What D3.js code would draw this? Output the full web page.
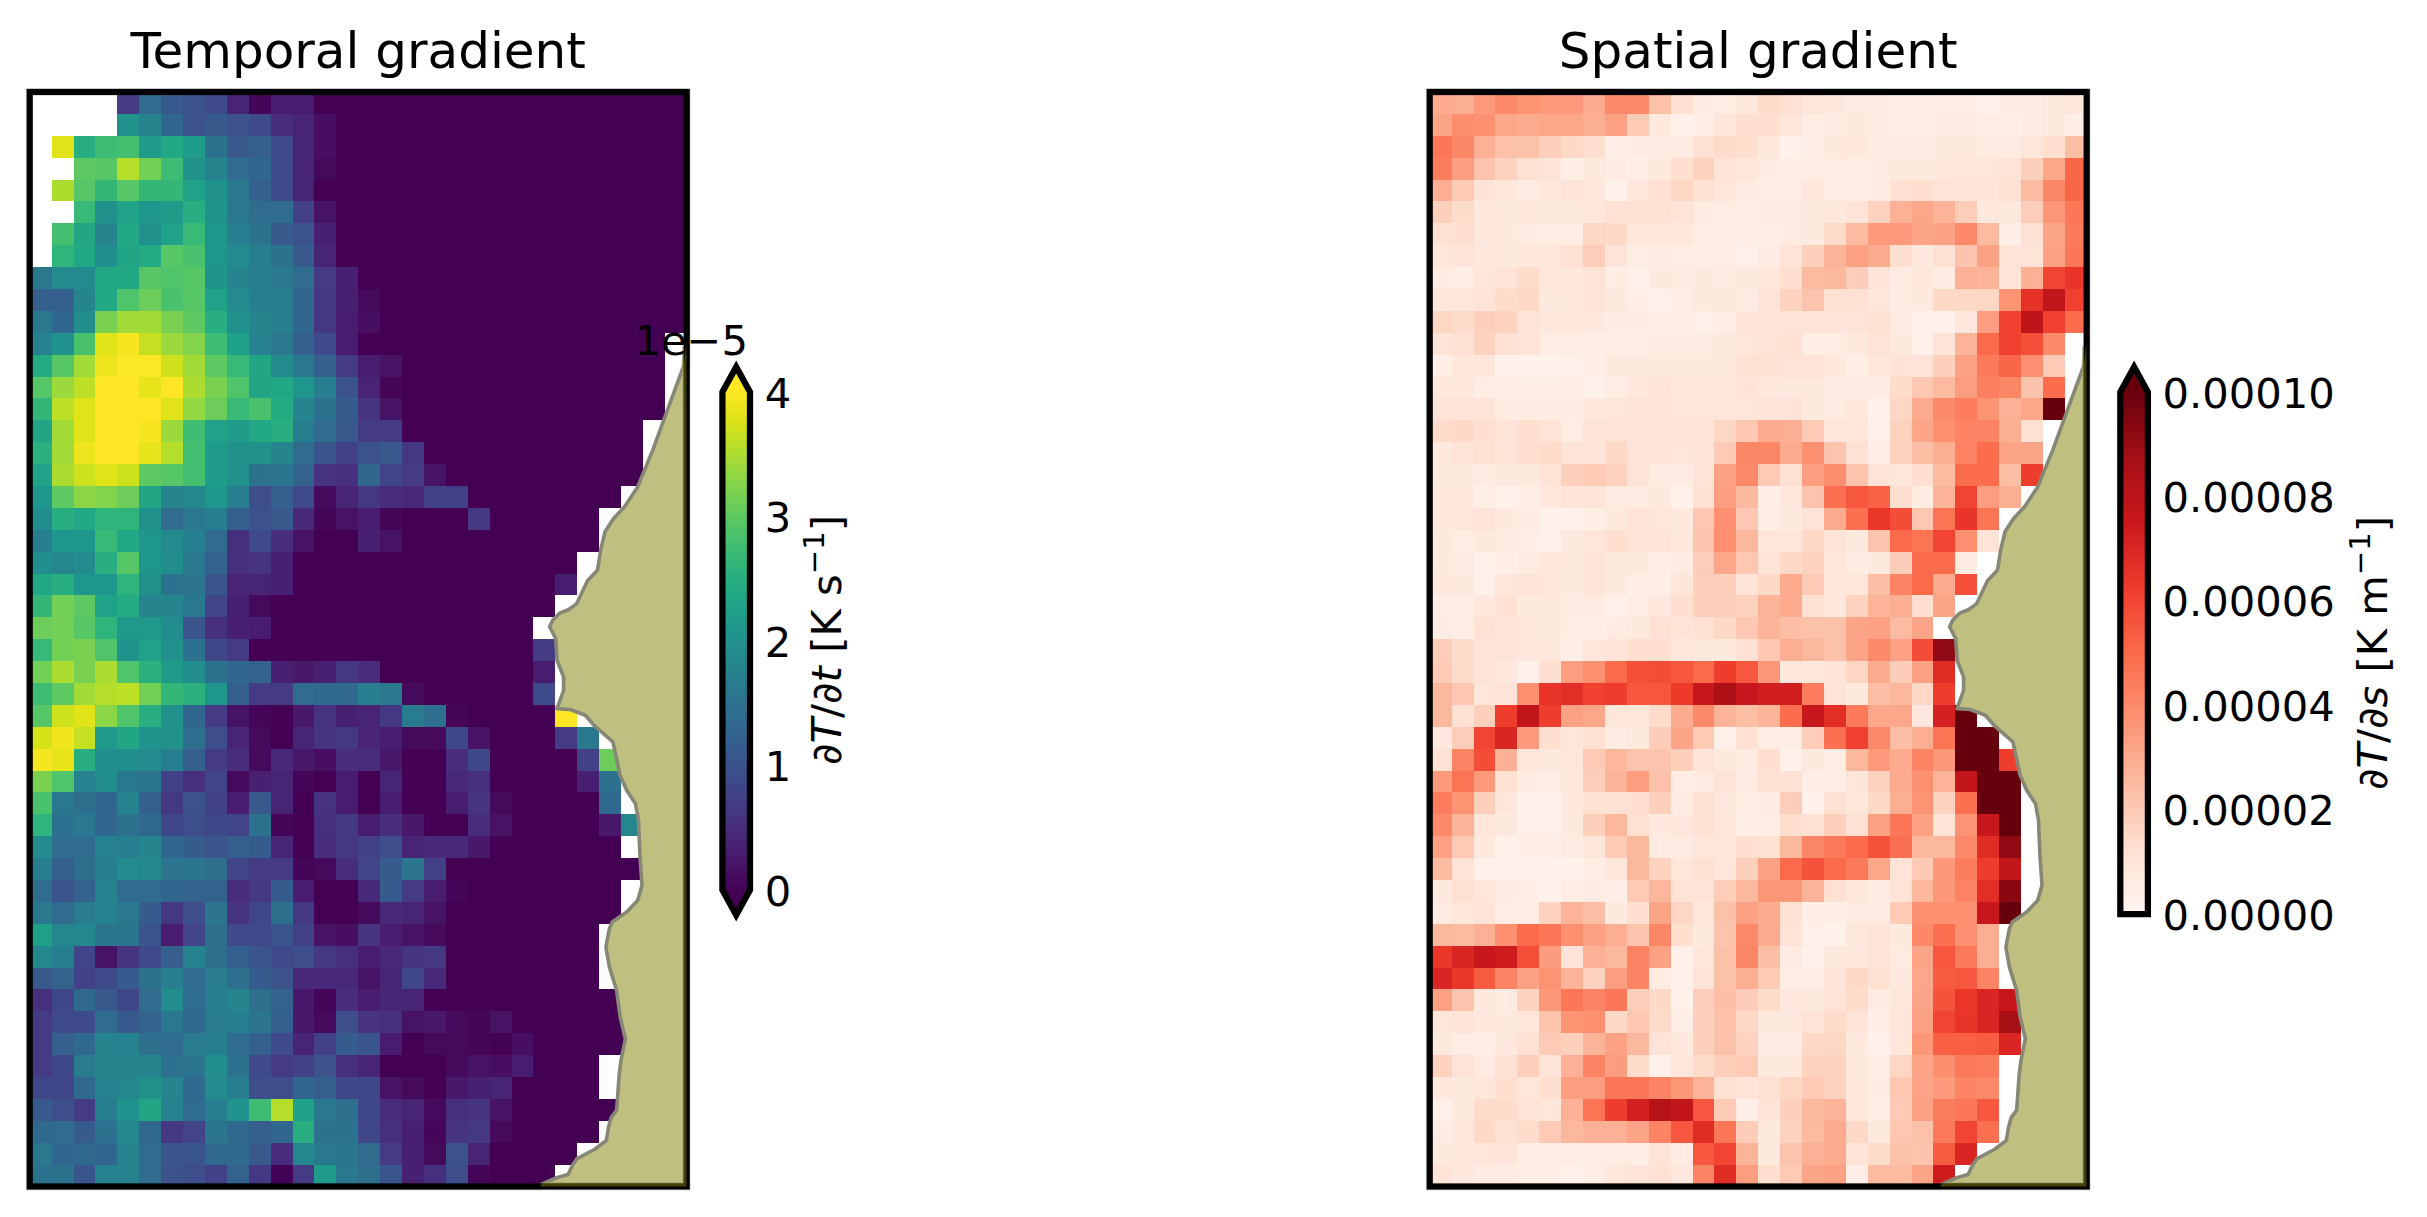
<!DOCTYPE html>
<html><head><meta charset="utf-8">
<script src="https://cdn.jsdelivr.net/npm/d3@7"></script>
<style>html,body{margin:0;padding:0;background:#fff}svg{display:block}text{font-family:"DejaVu Sans";fill:#000}</style>
</head><body><svg id="c" width="2427" height="1217"></svg>
<script>
const n=null;
// temporal gradient, units of 1e-5 K/s; cells not listed up to the ocean edge are ~0
const temporalRows=[
[n,n,n,n,.7,1.4,1.1,1,.9,.4,.05,.3,.3],
[n,n,n,n,2,1.8,1.3,1,1.1,1,.9,.5,.4,.15],
[n,3.8,2.5,2.75,2.8,2.2,2.4,2.2,1.5,1.1,1.2,.9,.4,.15],
[n,n,3,2.95,3.55,3.15,2.75,2,1.8,1.4,1.3,.9,.4,.1],
[n,3.5,2.95,2.65,2.95,2.65,2.65,2.3,2,1.6,1.2,.9,.4],
[n,n,2.7,2,2.3,2.1,2.2,2.5,2.05,1.6,1.4,1.4,.75,.2],
[n,2.8,2.35,1.8,2.4,2,2.3,2.7,2.1,1.7,1.5,1.1,1,.35],
[n,2.6,2.4,1.95,2.35,2.45,2.95,2.85,2.1,1.9,1.7,1.5,1.1,.4],
[1.6,1.9,1.9,2.4,2.4,2.95,2.9,2.95,2.05,1.8,1.7,1.6,1.4,.7,.35],
[1.2,1.2,1.8,2.4,2.9,3.1,2.85,2.95,2.3,1.9,1.7,1.7,1.3,.65,.35,.1],
[1.6,1.3,1.95,3.2,3.45,3.45,3.2,3,2.5,2,1.8,1.7,1.3,.65,.3,.15],
[1.75,2,2.85,3.8,3.95,3.65,3.4,3.25,2.75,2.25,1.75,1.6,1.2,.9,.3],
[2.45,2.95,3.45,3.9,3.98,3.98,3.7,3.45,3,2.7,2.35,1.9,1.6,1.2,.7,.3,.2],
[2.95,3.4,3.6,4,4,3.85,4,3.5,3.2,2.9,2.35,2.4,2.1,1.7,1,.4,.05],
[2.65,3.6,3.8,4,4,4,3.8,3.35,3.1,2.7,2.85,2.45,1.8,1.5,1.15,.6,.2],
[2.35,3.45,3.8,4,4,3.95,3.4,2.75,2.3,2.2,2.4,2.5,1.7,1.4,1.1,.7,.7],
[2.55,3.45,3.9,4,4,3.85,3.55,2.8,2.2,2,2,1.8,1.4,1.05,.75,1,1.1,.65],
[2.3,3.5,3.7,3.8,3.7,3,2.95,2.8,2.2,2,1.5,1.55,1.25,.6,.55,1.3,.8,.7,.2],
[2.1,3,3.3,3.25,3.1,2.35,1.8,1.85,2.1,1.7,.95,1.2,.9,.1,.4,.65,.5,.45,.75,.75],
[1.95,2.5,2.4,2.6,2.6,2,1.4,1.6,1.7,1.2,1,1.1,.45,.05,.2,.3,.05,0,0,0,.65],
[1.7,2.1,2.1,2.7,2.4,2.1,1.9,1.7,1.4,.55,.9,.5,.2,0,0,.35,.2],
[1.95,1.85,1.9,2.5,2.95,2.1,1.95,1.6,1.25,.55,.6,.35],
[2.4,2.5,2.1,2.1,2.6,2,1.5,1.55,1.05,.4,.4,.35,0,0,0,0,0,0,0,0,0,0,0,0,.3],
[2.65,3.15,3,2.3,2.45,1.8,1.8,1.6,.8,.35,.1],
[3.1,3.15,2.95,2.6,2.15,2.15,1.95,1.05,.55,.35,.3],
[2.7,3.15,3.2,2.9,2.05,2.3,2,1.5,.85,.7,0,0,0,0,0,0,0,0,0,0,0,0,0,.7],
[3.15,3.5,3.2,3.5,2.9,2.55,2.2,1.95,1.5,1.3,1.25,.35,.25,.35,.65,.5,0,0,0,0,0,0,0,.3],
[2.75,3,3.45,3.55,3.6,3.15,2.65,2.55,2.1,1.2,.7,.7,1.4,1.35,1.35,1.7,1.6,.1,0,0,0,0,0,.9],
[2.95,3.7,3.8,3.3,2.9,2.5,2,1.3,.7,.2,.05,0,.25,.6,.35,.4,.65,1.65,1.45,.05,0,0,0,0,4],
[3.75,3.9,3.65,2.15,2.35,2.05,2,1.45,.95,.4,.1,0,.4,.6,.65,.4,.3,.1,.1,.85,.2,0,0,0,.7,1.6],
[3.95,3.85,2.5,1.95,1.95,1.9,1.7,1.2,.7,.5,.1,.45,.25,.15,.5,.5,.25,0,0,.5,.85,0,0,0,0,.75,3.1],
[3.2,2.9,1.75,1.95,1.6,1.55,.75,.55,.8,.1,.35,.4,.05,0,.3,0,.4,0,0,.45,.55,0,0,0,0,.35,1.5],
[2.85,1.6,1.45,1.3,1.75,1.2,.65,1,.75,.3,1.1,.4,0,.6,.3,0,.3,0,0,.3,.6,.1,0,0,0,0,1.35],
[2.6,1.5,1.6,1.3,1.5,1.35,.85,.95,.85,.8,1.5,.05,0,.55,.65,.3,.5,.25,0,0,.5,.2,0,0,0,0,.25,1.85],
[1.9,1.4,1.4,1.75,1.7,1.8,1.3,1.15,1.05,1.2,1.15,.4,0,.5,.65,.75,.95,.4,.45,.45,.25],
[1.7,1.2,1.45,1.7,1.9,1.85,1.55,1.55,1.45,.8,.7,.7,.05,.1,.5,.8,1.15,1.55,.75],
[1.4,1.05,1.25,1.75,1.4,1.4,1.3,1.25,1.25,.5,.65,1.15,.3,0,0,.45,1.15,.7,.3,.05],
[1.6,1.4,1.65,1.75,1.6,1.15,.65,.95,1.55,.6,.85,1.45,.65,0,0,.1,.45,.4,.2],
[2.25,1.85,1.85,1.55,1.55,1.05,.3,.8,1.45,.9,.9,1.05,.75,.2,.15,.6,.3,.2,.1],
[1.85,1.7,.8,.2,.6,.9,1.2,1.75,1.45,1.2,1.05,.9,.95,.65,.55,.3,.45,.6,.65],
[1.1,1.25,.75,.9,1.15,1.5,1.7,1.4,1.65,1.45,1.15,1,.45,.45,.45,.2,.4,.85,.45],
[.55,.85,1.35,1.1,.85,1.4,1.95,1.4,1.7,1.8,1.45,1.25,.25,.05,.5,.3,.4,.4],
[.7,.9,.9,1.4,1.1,1.25,1.6,1.35,1.65,1.7,1.55,1.2,.25,.1,.95,.6,.55,.2,.25,.1,.05,.2],
[.7,1.2,1.35,1.8,1.75,1.45,1.4,1.65,1.7,1.4,1.2,.9,.4,.75,1.15,1.05,.3,0,.1,.1,.05,.02,.15],
[.7,.85,1.65,1.8,1.8,1.8,1.5,1.55,1.95,1.5,.9,.7,.75,1,.55,.4,0,0,0,.1,.2,.15,.3],
[.85,.85,1.35,1.75,1.85,2,1.8,1.35,1.9,1.7,.95,.95,1.3,1.2,.85,.85,.2,.1,0,.25,.35,.4],
[1.1,.95,.7,1.7,2.05,2.35,1.75,1.4,1.7,2.05,2.75,3.55,2.25,1.6,1.45,.85,.5,.4,.1,.55,.6,.2],
[1.35,1.4,1.15,1.5,1.85,1.35,.65,.8,1.55,1.35,1.2,1.3,2.5,1.5,1.5,.85,.55,.35,.05,.6,.65,.1],
[1.6,1.3,1.35,1.3,1.75,1.4,1.05,1.05,1.35,1.35,1.1,.5,1.85,1.6,1.55,1.4,.7,.35,.1,1,.4],
[1.5,1.5,1.05,1.75,1.75,1.4,1,.95,.75,1.25,.65,.02,.7,2.2,1.6,1.45,1.05,.35,.55,.95,.05]
];
// number of valid (ocean) columns in each row of the temporal field
const oceanEnd=[30,30,30,30,30,30,30,30,30,30,30,29,29,29,29,28,28,28,27,26,26,25,25,24,23,24,24,24,25,26,27,27,27,28,27,28,27,27,26,26,26,27,28,28,26,26,27,26,25,24];
// spatial gradient, units of 1e-6 K/m
const spatialRows=[
[30,29,35,40,37,35,35,30,40,40,23,12,6,5,8,14,12,9,8,6,6,4,4,5,5,3,6,6,7,9],
[32,39,38,31,30,31,31,29,33,20,7,3,4,9,13,13,9,5,6,7,6,5,5,6,6,5,4,6,7,4],
[46,41,28,23,23,18,15,13,4,6,6,6,12,14,13,8,3,4,7,8,6,6,6,7,7,6,6,9,13,24],
[44,34,22,17,12,10,4,7,6,4,7,13,17,11,9,6,5,5,5,5,6,7,7,8,9,9,10,18,31,51],
[29,20,11,8,6,8,10,8,3,8,12,16,12,9,6,4,5,8,5,5,6,12,13,11,10,10,12,25,41,51],
[18,14,8,7,8,7,7,9,12,12,12,11,6,5,4,6,6,7,8,11,17,28,31,27,19,8,7,19,36,46],
[12,13,8,7,6,5,5,16,15,8,8,8,5,5,4,5,6,7,14,25,35,35,32,33,40,25,4,12,32,45],
[9,10,8,7,9,9,12,19,10,5,6,5,4,5,3,6,11,18,27,33,30,13,7,12,22,33,11,11,33,46],
[6,5,9,11,14,9,8,11,5,3,7,6,7,6,7,8,13,25,26,19,10,6,8,6,28,27,10,28,60,65],
[9,9,10,14,15,7,8,10,7,4,3,5,7,7,6,10,17,22,12,12,9,6,7,15,15,16,37,66,78,61],
[16,14,18,17,11,8,8,8,6,6,5,5,3,5,10,11,11,10,10,10,12,6,3,3,8,34,61,79,61,49],
[11,12,17,12,10,5,5,4,4,4,6,6,6,7,9,11,12,5,5,7,10,7,3,10,27,50,61,57,40],
[4,8,9,2,2,2,3,4,7,7,7,7,7,7,12,12,11,11,8,4,8,11,11,18,33,45,51,38,20],
[8,8,5,5,4,4,5,3,5,8,10,8,8,8,11,8,7,7,6,6,6,14,21,25,34,43,41,22,49],
[11,11,11,6,6,6,6,8,9,10,10,9,9,9,9,10,11,7,6,8,3,16,30,40,44,37,28,31,100],
[14,15,13,10,13,11,5,10,11,11,11,11,11,16,21,30,29,20,9,9,3,17,31,38,42,42,29,12],
[7,11,12,11,13,14,10,10,15,11,10,9,10,20,41,41,30,38,22,12,4,17,24,29,42,49,32,32],
[7,7,6,7,7,11,18,20,17,11,6,6,10,33,40,20,12,34,39,22,11,9,13,25,49,49,24,62],
[8,8,4,3,4,8,10,10,6,6,7,3,12,34,25,4,8,22,48,55,52,13,5,27,60,34,29],
[8,9,10,7,6,3,3,4,7,11,9,7,21,38,21,4,7,10,30,48,64,58,21,47,65,47],
[7,5,7,6,4,3,7,9,13,11,10,7,22,38,26,9,9,15,10,7,22,50,47,60,38,10],
[7,6,3,4,6,8,7,10,7,7,5,6,19,31,21,11,15,17,9,6,7,19,49,49,6],
[8,7,3,9,11,9,7,10,7,4,4,9,18,18,10,15,30,20,8,9,24,42,50,30,57],
[5,5,8,12,7,7,6,6,3,5,8,13,18,18,17,27,30,12,8,17,27,29,13,32],
[6,5,12,10,8,7,5,4,6,7,12,11,12,15,21,27,24,23,23,32,33,25,32],
[19,14,10,10,8,8,4,9,10,13,13,8,7,7,12,21,29,26,23,32,40,33,58,92],
[20,14,11,8,3,13,34,38,50,57,58,55,50,62,55,36,8,9,11,16,30,19,33,68],
[26,21,9,10,38,65,67,61,62,55,55,63,76,85,76,73,73,44,10,7,24,26,15,62],
[26,12,18,62,78,62,33,31,9,9,14,30,40,27,24,27,49,77,67,45,31,31,8,72,100],
[8,19,60,70,35,13,9,12,6,7,19,32,20,3,12,5,5,19,48,61,40,24,29,47,100,100],
[12,42,58,28,9,7,9,20,26,22,22,18,10,7,6,13,3,7,5,26,35,30,42,36,100,100,62],
[35,47,35,12,6,5,9,19,27,34,23,5,6,10,6,12,12,4,5,9,17,30,38,27,78,100,100],
[44,37,18,9,3,3,8,12,12,13,18,6,12,8,5,6,19,3,12,9,15,29,37,17,48,100,100],
[40,27,9,7,3,3,7,18,26,12,7,8,12,9,4,5,13,12,18,12,33,46,33,11,37,76,100],
[33,20,7,3,4,4,6,9,20,26,6,6,9,8,13,12,26,41,45,50,56,48,26,26,40,68,92],
[25,11,3,3,3,3,2,5,9,26,17,9,12,9,18,33,50,56,50,45,31,11,20,36,44,62,78],
[7,12,9,6,4,2,5,6,4,20,26,11,11,19,26,36,36,27,12,8,6,11,26,36,42,67,93],
[6,9,10,5,5,17,27,24,7,13,32,16,9,23,33,30,12,4,4,6,6,20,38,38,38,76,100],
[26,25,28,38,50,46,38,33,29,22,41,13,7,22,40,30,11,3,2,8,10,7,40,48,38,29],
[64,70,76,74,57,34,10,28,26,42,33,3,9,23,41,24,6,3,7,8,11,6,32,55,45,29],
[70,64,54,42,33,37,27,17,34,42,6,3,10,23,29,20,5,5,10,15,12,7,31,54,55,42],
[33,22,7,6,17,36,46,42,46,19,15,3,19,24,19,14,8,7,11,14,6,8,32,56,64,70,76],
[9,10,8,7,9,22,37,38,15,21,14,4,18,23,15,7,7,11,14,10,4,9,33,60,65,70,87],
[7,5,4,8,12,20,18,27,33,26,10,7,18,23,17,6,6,15,16,7,3,9,36,53,53,54,70],
[17,11,6,12,18,10,28,42,34,14,3,9,14,18,20,7,7,17,17,7,5,16,32,39,45,44],
[8,7,9,13,9,13,34,34,46,46,42,36,27,12,11,12,16,20,17,8,6,21,32,35,42,40],
[3,7,14,14,10,9,28,47,62,72,82,78,55,20,4,10,18,26,27,8,5,20,33,44,46,55],
[6,8,15,12,14,20,26,28,28,32,42,55,68,46,19,7,17,25,30,15,7,21,23,45,60,48],
[7,8,9,10,5,5,5,5,5,5,10,6,55,60,27,7,22,28,30,11,14,23,22,54,70],
[11,8,6,6,4,4,3,5,9,10,12,8,42,68,34,13,20,32,33,4,25,25,32,74]
];
// coastline in grid units (column, row)
const coast=[[30,11.33],[29.85,12.55],[28.45,16.36],[27.76,18.04],[27.16,18.95],[26.66,19.48],[26.27,20.09],[26.07,20.93],[25.93,21.84],[25.47,22.33],[24.98,23.37],[24.62,23.64],[24.18,23.82],[23.88,24.13],[23.74,24.43],[24.02,24.97],[24.08,25.96],[24.38,26.72],[24.38,27.33],[24.08,28.17],[24.68,28.21],[25.37,28.47],[25.77,28.93],[26.63,29.69],[26.96,31.21],[27.26,31.9],[27.66,32.51],[27.8,33.27],[27.86,34.79],[27.96,36.24],[27.76,36.93],[27.26,37.46],[26.6,37.92],[26.47,38.22],[26.31,39.06],[26.47,39.97],[26.8,41.04],[26.96,42.26],[27.2,43.25],[27,44.24],[26.92,44.85],[26.8,46.52],[26.56,46.83],[26.43,47.29],[26.33,47.9],[25.8,48.3],[24.98,48.74],[24.8,49],[24.58,49.45],[24.06,49.6],[23.38,49.89],[23.2,50.2],[30,50.2]];
const shoreInset=[[29.83,11.6],[29.83,49.83],[23.55,49.83]];
const panelTitles=["Temporal gradient","Spatial gradient"];
const temporalTicks=[0,1,2,3,4];
const spatialTicks=[0,2e-5,4e-5,6e-5,8e-5,1e-4];

const temporalGrid=temporalRows.map((r,i)=>d3.range(30).map(c=>c>=oceanEnd[i]?null:(c<r.length?r[c]:0)));
const spatialGrid=spatialRows.map(r=>d3.range(30).map(c=>c<r.length?r[c]*1e-6:null));
const viridis=d3.scaleSequential(d3.interpolateViridis).domain([0,4]).clamp(true);
const reds=d3.scaleLinear().domain(d3.range(9).map(i=>i/8*1e-4)).range(d3.schemeReds[9]).clamp(true);

const svg=d3.select("#c");
svg.append("rect").attr("width",2427).attr("height",1217).attr("fill","#fff");
const defs=svg.append("defs");
const FS=41.67;

function panel(idx,offset,grid,color){
  const x=d3.scaleLinear().domain([0,30]).range([29.7+offset,686.7+offset]);
  const y=d3.scaleLinear().domain([0,50]).range([92,1186.5]);
  const bx=x(0),by=y(0),bw=x(30)-x(0),bh=y(50)-y(0);
  defs.append("clipPath").attr("id","ax"+idx).append("rect").attr("x",bx).attr("y",by).attr("width",bw).attr("height",bh);
  const ring=defs.append("clipPath").attr("id","ring"+idx);
  ring.append("rect").attr("x",x(30)-3.2).attr("y",by).attr("width",3.2).attr("height",bh);
  ring.append("rect").attr("x",bx).attr("y",y(50)-3.2).attr("width",bw).attr("height",3.2);
  const g=svg.append("g");
  const cells=grid.flatMap((row,r)=>row.map((v,c)=>({r,c,v}))).filter(d=>d.v!==null);
  g.append("g").attr("clip-path",`url(#ax${idx})`).attr("shape-rendering","crispEdges")
    .selectAll("rect").data(cells).join("rect")
    .attr("x",d=>x(d.c)).attr("y",d=>y(d.r))
    .attr("width",d=>x(d.c+1)-x(d.c)).attr("height",d=>y(d.r+1)-y(d.r))
    .attr("fill",d=>color(d.v));
  const line=d3.line().x(d=>x(d[0])).y(d=>y(d[1]));
  const landPath=line(coast)+"Z";
  g.append("path").attr("d",landPath).attr("clip-path",`url(#ax${idx})`)
    .attr("fill","#bfbf80").attr("stroke","#878776").attr("stroke-width",3.6).attr("stroke-linejoin","round");
  g.append("path").attr("d",line(shoreInset)).attr("fill","none").attr("stroke","#a3a27a").attr("stroke-width",1.2);
  g.append("rect").attr("x",bx-3.6).attr("y",by-3.6).attr("width",bw+7.2).attr("height",bh+7.2)
    .attr("fill","none").attr("stroke","#e4e4e4").attr("stroke-width",1);
  g.append("rect").attr("x",bx).attr("y",by).attr("width",bw).attr("height",bh)
    .attr("fill","none").attr("stroke","#000").attr("stroke-width",6.25);
  g.append("path").attr("d",landPath).attr("clip-path",`url(#ring${idx})`).attr("fill","#808000").attr("fill-opacity",.5);
  g.append("text").attr("x",(x(0)+x(30))/2).attr("y",68).attr("text-anchor","middle").attr("font-size",50).text(panelTitles[idx]);
}
panel(0,0,temporalGrid,viridis);
panel(1,1400,spatialGrid,reds);

function colorbar(id,x0,x1,scale,color,ticks,fmt,extendMin,ext,labelX,labelY,parts){
  const [d0,d1]=scale.domain();
  const y0=scale(d0),y1=scale(d1),xm=(x0+x1)/2;
  const grad=defs.append("linearGradient").attr("id",id).attr("x1",0).attr("x2",0).attr("y1",0).attr("y2",1);
  d3.range(0,33).forEach(i=>{const t=i/32;grad.append("stop").attr("offset",t).attr("stop-color",color(d1+(d0-d1)*t));});
  const g=svg.append("g");
  g.append("rect").attr("x",x0).attr("y",y1).attr("width",x1-x0).attr("height",y0-y1).attr("fill",`url(#${id})`);
  g.append("path").attr("d",`M${x0},${y1}L${xm},${y1-ext}L${x1},${y1}Z`).attr("fill",color(d1));
  if(extendMin) g.append("path").attr("d",`M${x0},${y0}L${xm},${y0+ext}L${x1},${y0}Z`).attr("fill",color(d0));
  const outline=extendMin
    ?`M${x0},${y1}L${xm},${y1-ext}L${x1},${y1}L${x1},${y0}L${xm},${y0+ext}L${x0},${y0}Z`
    :`M${x0},${y1}L${xm},${y1-ext}L${x1},${y1}L${x1},${y0}L${x0},${y0}Z`;
  g.append("path").attr("d",outline).attr("fill","none").attr("stroke","#000").attr("stroke-width",6.25).attr("stroke-miterlimit",10);
  const ax=g.append("g").attr("transform",`translate(${x1},0)`)
    .call(d3.axisRight(scale).tickValues(ticks).tickFormat(fmt).tickSize(0).tickPadding(14.7).offset(0));
  ax.select(".domain").remove();
  ax.selectAll("text").attr("font-size",FS).attr("font-family","DejaVu Sans").attr("fill","#000").attr("dy",15.6);
  const t=g.append("text").attr("text-anchor","middle").attr("font-size",FS)
    .attr("transform",`translate(${labelX},${labelY}) rotate(-90)`);
  parts.forEach(p=>{
    const s=t.append("tspan").text(p.t);
    if(p.i) s.attr("font-style","italic");
    if(p.sup) s.attr("font-size",FS*.7).attr("dy",-17);
    if(p.down) s.attr("dy",17);
  });
}
colorbar("gt",722.4,750,d3.scaleLinear().domain([0,4]).range([890,392]),viridis,temporalTicks,d3.format("d"),true,25,841,640,
 [{t:"∂"},{t:"T",i:1},{t:"/∂"},{t:"t",i:1},{t:" [K s"},{t:"−1",sup:1},{t:"]",down:1}]);
colorbar("gs",2120.3,2147.9,d3.scaleLinear().domain([0,1e-4]).range([914,392]),reds,spatialTicks,d3.format(".5f"),false,25,2387,653,
 [{t:"∂"},{t:"T",i:1},{t:"/∂"},{t:"s",i:1},{t:" [K m"},{t:"−1",sup:1},{t:"]",down:1}]);
svg.append("text").attr("x",748).attr("y",355).attr("text-anchor","end").attr("font-size",FS).text("1e−5");
</script></body></html>
